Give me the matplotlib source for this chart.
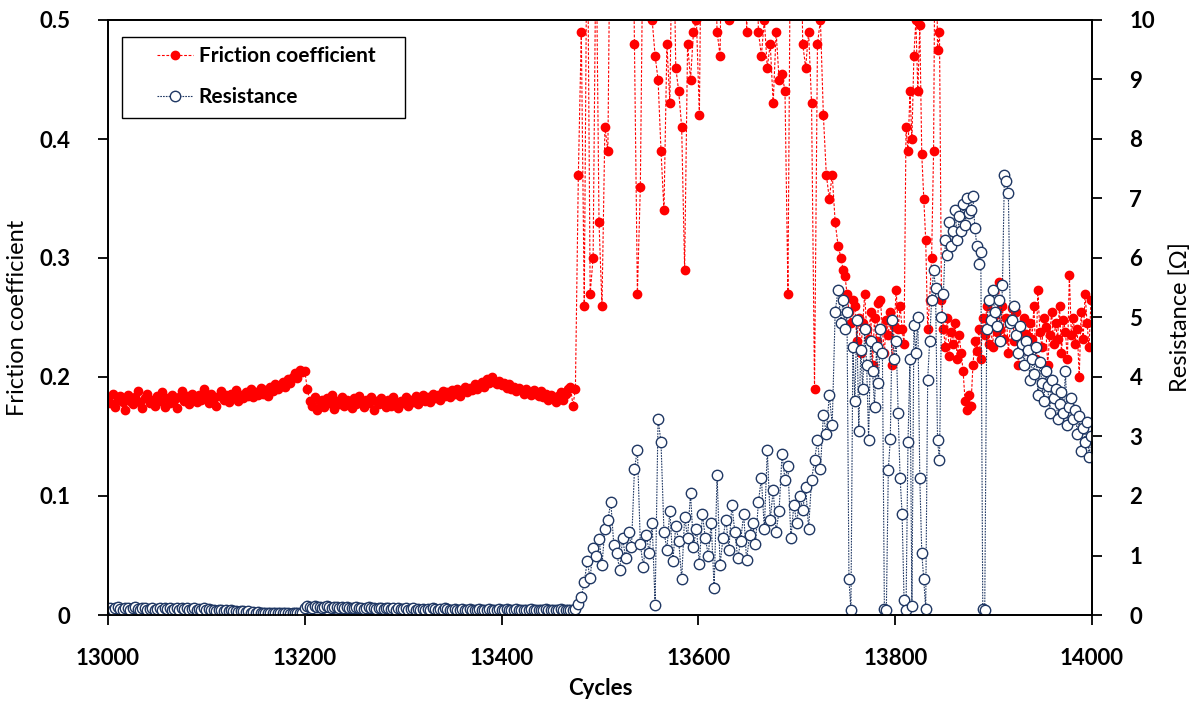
import numpy as np
import matplotlib
matplotlib.use("Agg")
from matplotlib import pyplot as plt
from matplotlib.patches import Rectangle
from matplotlib.ticker import FuncFormatter

plt.rcParams['font.family'] = ['Lato', 'DejaVu Sans']

# cycle grids: steady part, unstable part, late part
cyc_a = np.arange(13000, 13475, 2.5)
cyc_b = np.arange(13475, 13745, 3)
cyc_c = np.arange(13745, 14000, 2)

fric_a = [0.183, 0.178, 0.186, 0.175, 0.181, 0.184, 0.179, 0.172, 0.185, 0.180,
          0.177, 0.183, 0.188, 0.179, 0.174, 0.182, 0.186, 0.178, 0.181, 0.176,
          0.184, 0.180, 0.187, 0.175, 0.182, 0.178, 0.185, 0.181, 0.174, 0.183,
          0.188, 0.180, 0.184, 0.177, 0.186, 0.182, 0.179, 0.185, 0.181, 0.190,
          0.183, 0.178, 0.186, 0.182, 0.176, 0.184, 0.188, 0.181, 0.185, 0.179,
          0.186, 0.183, 0.189, 0.180, 0.185, 0.182, 0.187, 0.184, 0.190, 0.183,
          0.187, 0.185, 0.191, 0.186, 0.189, 0.184, 0.192, 0.188, 0.194, 0.190,
          0.193, 0.196, 0.192, 0.198, 0.195, 0.200, 0.203, 0.199, 0.206, 0.204,
          0.205, 0.190, 0.180, 0.176, 0.183, 0.172, 0.179, 0.181, 0.175, 0.182,
          0.178, 0.185, 0.173, 0.180, 0.177, 0.183, 0.176, 0.181, 0.179, 0.174,
          0.182, 0.177, 0.184, 0.179, 0.175, 0.181, 0.178, 0.183, 0.172, 0.180,
          0.177, 0.182, 0.178, 0.175, 0.181, 0.176, 0.183, 0.179, 0.174, 0.180,
          0.178, 0.183, 0.176, 0.181, 0.179, 0.184, 0.177, 0.182, 0.185, 0.180,
          0.183, 0.179, 0.186, 0.182, 0.185, 0.181, 0.188, 0.184, 0.187, 0.183,
          0.189, 0.186, 0.190, 0.184, 0.188, 0.192, 0.187, 0.191, 0.189, 0.194,
          0.190, 0.193, 0.196, 0.192, 0.198, 0.195, 0.200, 0.196, 0.194, 0.197,
          0.193, 0.195, 0.191, 0.194, 0.190, 0.192, 0.188, 0.191, 0.189, 0.186,
          0.190, 0.187, 0.185, 0.189, 0.186, 0.184, 0.188, 0.183, 0.186, 0.181,
          0.185, 0.182, 0.179, 0.184, 0.187, 0.181, 0.186, 0.190, 0.192, 0.176]

fric_b = [0.19, 0.37, 0.49, 0.26, 0.62, 0.27, 0.30, 0.58, 0.33, 0.26,
          0.41, 0.39, 0.65, 0.72, 0.60, 0.68, 0.75, 0.58, 0.63, 0.70,
          0.48, 0.27, 0.36, 0.60, 0.70, 0.55, 0.50, 0.47, 0.45, 0.39,
          0.34, 0.48, 0.43, 0.62, 0.46, 0.44, 0.41, 0.29, 0.48, 0.45,
          0.49, 0.50, 0.42, 0.68, 0.75, 0.62, 0.70, 0.58, 0.49, 0.47,
          0.65, 0.72, 0.50, 0.60, 0.68, 0.75, 0.63, 0.70, 0.49, 0.58,
          0.66, 0.60, 0.49, 0.47, 0.50, 0.46, 0.48, 0.43, 0.49, 0.45,
          0.455, 0.44, 0.27, 0.64, 0.72, 0.58, 0.66, 0.48, 0.46, 0.49,
          0.43, 0.19, 0.48, 0.50, 0.42, 0.37, 0.35, 0.37, 0.33, 0.31]

fric_c = [0.30, 0.29, 0.285, 0.27, 0.255, 0.245, 0.265, 0.26, 0.23, 0.25,
          0.22, 0.245, 0.27, 0.24, 0.232, 0.255, 0.21, 0.25, 0.23, 0.262,
          0.265, 0.24, 0.22, 0.248, 0.235, 0.255, 0.21, 0.243, 0.273, 0.24,
          0.26, 0.24, 0.228, 0.41, 0.39, 0.44, 0.40, 0.47, 0.50, 0.44,
          0.496, 0.387, 0.35, 0.315, 0.24, 0.265, 0.30, 0.39, 0.65, 0.475,
          0.49, 0.265, 0.24, 0.225, 0.25, 0.218, 0.238, 0.228, 0.245, 0.215,
          0.235, 0.22, 0.205, 0.18, 0.172, 0.185, 0.176, 0.21, 0.23, 0.222,
          0.24, 0.215, 0.25, 0.235, 0.26, 0.228, 0.245, 0.225, 0.252, 0.238,
          0.28, 0.24, 0.26, 0.232, 0.25, 0.22, 0.245, 0.258, 0.23, 0.255,
          0.21, 0.24, 0.228, 0.25, 0.236, 0.222, 0.245, 0.232, 0.26, 0.215,
          0.273, 0.238, 0.225, 0.25, 0.242, 0.21, 0.235, 0.255, 0.228, 0.245,
          0.232, 0.26, 0.22, 0.248, 0.238, 0.215, 0.286, 0.235, 0.25, 0.228,
          0.24, 0.20, 0.255, 0.232, 0.27, 0.245, 0.225, 0.265]

res_a = [0.10, 0.12, 0.09, 0.11, 0.13, 0.10, 0.08, 0.11, 0.12, 0.09,
         0.11, 0.13, 0.10, 0.08, 0.11, 0.12, 0.09, 0.10, 0.12, 0.08,
         0.10, 0.12, 0.09, 0.11, 0.10, 0.12, 0.08, 0.10, 0.11, 0.09,
         0.11, 0.10, 0.12, 0.09, 0.10, 0.11, 0.08, 0.10, 0.09, 0.11,
         0.09, 0.10, 0.08, 0.09, 0.07, 0.09, 0.08, 0.06, 0.08, 0.07,
         0.08, 0.06, 0.07, 0.05, 0.07, 0.06, 0.05, 0.06, 0.04, 0.05,
         0.04, 0.05, 0.03, 0.04, 0.03, 0.04, 0.03, 0.03, 0.04, 0.03,
         0.03, 0.04, 0.03, 0.03, 0.02, 0.03, 0.03, 0.04, 0.03, 0.04,
         0.12, 0.15, 0.14, 0.12, 0.15, 0.13, 0.14, 0.12, 0.13, 0.15,
         0.13, 0.12, 0.14, 0.13, 0.11, 0.13, 0.12, 0.14, 0.12, 0.11,
         0.12, 0.13, 0.11, 0.12, 0.10, 0.12, 0.13, 0.11, 0.12, 0.10,
         0.11, 0.12, 0.10, 0.11, 0.12, 0.10, 0.11, 0.09, 0.11, 0.10,
         0.10, 0.11, 0.09, 0.10, 0.11, 0.09, 0.10, 0.08, 0.10, 0.09,
         0.10, 0.09, 0.11, 0.10, 0.08, 0.10, 0.09, 0.11, 0.10, 0.09,
         0.09, 0.10, 0.08, 0.09, 0.10, 0.09, 0.08, 0.10, 0.09, 0.08,
         0.09, 0.10, 0.08, 0.09, 0.08, 0.10, 0.09, 0.08, 0.09, 0.10,
         0.08, 0.09, 0.10, 0.08, 0.09, 0.08, 0.10, 0.09, 0.08, 0.09,
         0.09, 0.08, 0.10, 0.09, 0.08, 0.09, 0.08, 0.09, 0.10, 0.08,
         0.09, 0.08, 0.09, 0.08, 0.10, 0.09, 0.08, 0.09, 0.08, 0.09]

res_b = [0.10, 0.18, 0.30, 0.55, 0.90, 0.62, 1.13, 1.00, 1.28, 0.84,
         1.45, 1.60, 1.90, 1.18, 1.05, 0.75, 1.30, 0.95, 1.40, 1.15,
         2.45, 2.78, 1.20, 0.80, 1.35, 1.05, 1.55, 0.17, 3.30, 2.90,
         1.40, 1.10, 1.75, 0.90, 1.50, 1.25, 0.60, 1.65, 1.30, 2.05,
         1.15, 1.45, 0.85, 1.70, 1.30, 1.00, 1.55, 0.45, 2.35, 0.84,
         1.30, 1.60, 1.10, 1.85, 1.40, 0.95, 1.25, 1.70, 0.92, 1.35,
         1.55, 1.20, 1.90, 2.30, 1.45, 2.77, 1.60, 2.10, 1.40, 1.75,
         2.70, 2.27, 2.50, 1.30, 1.85, 1.55, 2.00, 1.76, 2.15, 1.45,
         2.27, 2.60, 2.94, 2.45, 3.36, 3.05, 3.70, 3.20, 5.10, 5.46]

res_c = [4.90, 5.30, 4.80, 5.10, 0.60, 0.08, 4.50, 3.60, 4.95, 3.10,
         4.45, 3.80, 4.80, 4.20, 2.94, 4.60, 4.10, 3.50, 4.50, 3.90,
         4.80, 4.40, 0.10, 0.08, 2.44, 2.95, 4.96, 4.30, 4.60, 3.40,
         2.30, 1.70, 0.25, 0.08, 2.90, 4.30, 0.15, 4.87, 4.40, 5.00,
         2.30, 1.05, 0.60, 0.10, 3.95, 4.60, 5.30, 5.80, 5.50, 2.94,
         2.60, 5.00, 5.40, 6.30, 6.05, 6.60, 6.20, 6.45, 6.80, 6.30,
         6.70, 6.45, 6.90, 6.55, 7.00, 6.75, 6.80, 7.05, 6.50, 6.20,
         5.90, 6.10, 0.10, 0.08, 4.80, 5.30, 4.96, 5.46, 5.10, 4.85,
         5.30, 4.60, 5.55, 7.40, 7.30, 7.10, 4.90, 4.96, 5.20, 4.70,
         4.40, 4.85, 4.55, 4.20, 4.60, 4.45, 3.95, 4.30, 4.05, 4.50,
         3.70, 4.25, 3.90, 3.60, 4.10, 3.85, 3.40, 3.95, 3.65, 3.80,
         3.30, 3.55, 3.75, 3.40, 4.10, 3.20, 3.50, 3.65, 3.30, 3.45,
         3.05, 3.35, 2.75, 3.15, 2.90, 3.25, 2.65, 3.00]

cycles = np.concatenate([cyc_a, cyc_b, cyc_c])
friction = np.concatenate([fric_a, fric_b, fric_c])
resistance = np.concatenate([res_a, res_b, res_c])

navy = '#203864'
W, H = 1197, 707

fig = plt.figure(figsize=(W / 100, H / 100), dpi=100)
ax = fig.add_axes([108 / W, 1 - 615 / H, 984 / W, 595 / H])
ax2 = ax.twinx()

l1, = ax.plot(cycles, friction, color='red', lw=0.8, ls=(0, (2.5, 1.5)),
              marker='o', ms=6, mfc='red', mec='red', label='Friction coefficient')
l2, = ax2.plot(cycles, resistance, color=navy, lw=0.8, ls=(0, (1.5, 1)),
               marker='o', ms=7.5, mfc='white', mec=navy, mew=1.0, label='Resistance')

ax.set_xlim(13000, 14000)
ax.set_ylim(0, 0.5)
ax2.set_ylim(0, 10)
ax.set_xticks(np.arange(13000, 14001, 200))
ax.set_yticks(np.arange(0, 0.51, 0.1))
ax2.set_yticks(np.arange(0, 11, 1))
ax.yaxis.set_major_formatter(FuncFormatter(lambda v, p: '{:g}'.format(round(v, 2))))

for a in (ax, ax2):
    for s in a.spines.values():
        s.set_linewidth(1.3)
    a.tick_params(direction='out', length=7, width=1.3, labelsize=16)
    for t in a.get_xticklabels() + a.get_yticklabels():
        t.set_fontweight('bold')
ax.tick_params(axis='x', pad=17)
ax.tick_params(axis='y', pad=20)
ax2.tick_params(axis='y', pad=20)

ax.set_xlabel('Cycles', fontsize=16, fontweight='bold', labelpad=6)
ax.set_ylabel('Friction coefficient', fontsize=17, labelpad=8)
ax2.set_ylabel('Resistance [Ω]', fontsize=17, labelpad=10)

# legend box drawn separately so the padding matches the original
box = Rectangle((122 / W, 1 - 118 / H), 283 / W, 81 / H, transform=fig.transFigure,
                facecolor='white', edgecolor='black', lw=1.0, zorder=3)
fig.add_artist(box)
fig.legend(handles=[l1, l2], loc='upper left', bbox_to_anchor=(157 / W, 1 - 46 / H),
           borderaxespad=0, borderpad=0, frameon=False,
           prop={'size': 15, 'weight': 'bold'}, handlelength=1.75,
           labelspacing=1.0, handletextpad=0.25).set_zorder(5)

fig.savefig('out.png', dpi=100)
